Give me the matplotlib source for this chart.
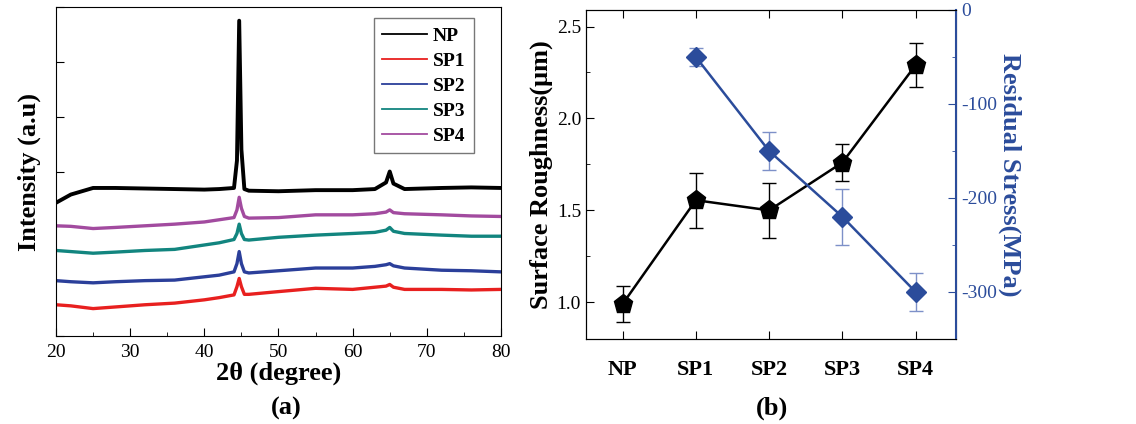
import matplotlib.pyplot as plt
from matplotlib.ticker import MultipleLocator, NullFormatter

plt.rcParams['font.family'] = ['Liberation Serif', 'DejaVu Serif']
plt.rcParams['axes.unicode_minus'] = False

# ---- (a) XRD patterns (stacked offsets) ----
two_theta = [20, 22, 25, 28, 32, 36, 40, 42, 44, 44.4, 44.7, 45.0, 45.4, 46,
             50, 55, 60, 63, 64.5, 65.0, 65.5, 67, 72, 76, 80]
np_int = [2.43, 2.58, 2.70, 2.70, 2.69, 2.68, 2.67, 2.68, 2.70, 3.20, 5.75, 3.40, 2.68, 2.65,
          2.64, 2.66, 2.66, 2.68, 2.80, 3.00, 2.78, 2.68, 2.70, 2.71, 2.70]
sp1_int = [0.57, 0.55, 0.50, 0.53, 0.57, 0.60, 0.66, 0.70, 0.75, 0.90, 1.05, 0.90, 0.76, 0.76,
           0.81, 0.87, 0.85, 0.89, 0.91, 0.94, 0.89, 0.85, 0.85, 0.84, 0.85]
sp2_int = [1.01, 0.99, 0.97, 0.99, 1.01, 1.02, 1.08, 1.11, 1.17, 1.32, 1.54, 1.32, 1.17, 1.15,
           1.19, 1.24, 1.24, 1.27, 1.30, 1.32, 1.28, 1.24, 1.20, 1.19, 1.17]
sp3_int = [1.56, 1.54, 1.51, 1.53, 1.56, 1.58, 1.66, 1.70, 1.76, 1.87, 2.04, 1.87, 1.76, 1.75,
           1.80, 1.84, 1.87, 1.89, 1.93, 1.98, 1.91, 1.87, 1.84, 1.82, 1.82]
sp4_int = [2.01, 2.00, 1.96, 1.98, 2.01, 2.04, 2.08, 2.12, 2.16, 2.30, 2.53, 2.33, 2.18, 2.15,
           2.16, 2.21, 2.21, 2.23, 2.26, 2.30, 2.25, 2.23, 2.21, 2.19, 2.18]

# ---- (b) roughness and residual stress ----
samples = ['NP', 'SP1', 'SP2', 'SP3', 'SP4']
roughness = [0.99, 1.555, 1.50, 1.76, 2.29]
roughness_err = [0.10, 0.15, 0.15, 0.10, 0.12]
stress_samples = ['SP1', 'SP2', 'SP3', 'SP4']
stress = [-50, -150, -220, -300]
stress_err = [10, 20, 30, 20]

fig = plt.figure(figsize=(11.36, 4.24), dpi=100)

ax1 = fig.add_axes([0.0493, 0.2075, 0.3917, 0.776])
series = [('NP', np_int, 'black', 2.8), ('SP1', sp1_int, '#e8201f', 2.4),
          ('SP2', sp2_int, '#2b3f9a', 2.4), ('SP3', sp3_int, '#12857f', 2.4),
          ('SP4', sp4_int, '#a24b9f', 2.4)]
for name, vals, col, lw in series:
    ax1.plot(two_theta, vals, color=col, lw=lw, label=name)
ax1.set_xlim(20, 80)
ax1.set_ylim(0, 6)
ax1.xaxis.set_major_locator(MultipleLocator(10))
ax1.xaxis.set_minor_locator(MultipleLocator(5))
ax1.yaxis.set_major_locator(MultipleLocator(1))
ax1.yaxis.set_major_formatter(NullFormatter())
ax1.tick_params(direction='in', which='both', top=False, right=False, labelsize=14)
ax1.tick_params(which='major', length=6, pad=6)
ax1.tick_params(which='minor', length=3)
ax1.set_xlabel('2θ (degree)', fontsize=19, fontweight='bold', labelpad=0)
ax1.set_ylabel('Intensity (a.u)', fontsize=19, fontweight='bold', labelpad=5)
leg = ax1.legend(loc='upper right', bbox_to_anchor=(0.962, 0.995), fancybox=False,
                 edgecolor='#555555', handlelength=2.3, handletextpad=0.3,
                 labelspacing=0.38, borderpad=0.45,
                 prop={'size': 14, 'weight': 'bold'})
leg.get_frame().set_linewidth(1.0)
for h in leg.get_lines():
    h.set_linewidth(1.3)
fig.text(0.252, 0.022, '(a)', fontsize=19, fontweight='bold', ha='center')

# ---- right panel ----
ax2 = fig.add_axes([0.5158, 0.2005, 0.3257, 0.776])
xpos = list(range(len(samples)))
ax2.errorbar(xpos, roughness, yerr=roughness_err, color='black', lw=1.8,
             marker='p', markersize=14, ecolor='black', elinewidth=1.0, capsize=5)
ax2.set_xlim(-0.5, 4.55)
ax2.set_ylim(0.8, 2.59)
ax2.set_xticks(xpos)
ax2.set_xticklabels(samples, fontsize=16, fontweight='bold')
ax2.yaxis.set_major_locator(MultipleLocator(0.5))
ax2.yaxis.set_minor_locator(MultipleLocator(0.25))
ax2.tick_params(direction='in', which='both', top=True, right=False, labelsize=14)
ax2.tick_params(axis='x', which='major', length=6, labelsize=16, pad=15)
ax2.tick_params(axis='y', which='major', length=6)
ax2.tick_params(axis='y', which='minor', length=3)
ax2.set_ylabel('Surface Roughness(μm)', fontsize=19, fontweight='bold', labelpad=3)

ax3 = ax2.twinx()
blue = '#2b4c9b'
sx = [samples.index(s) for s in stress_samples]
ax3.errorbar(sx, stress, yerr=stress_err, color=blue, lw=1.8, marker='D',
             markersize=10.5, ecolor='#7d90c8', elinewidth=1.0, capsize=5)
ax3.set_ylim(-350, 0)
ax3.yaxis.set_major_locator(MultipleLocator(100))
ax3.yaxis.set_minor_locator(MultipleLocator(50))
ax3.tick_params(direction='in', which='both', colors=blue, labelsize=14)
ax3.tick_params(which='major', length=6)
ax3.tick_params(which='minor', length=3)
ax3.spines['right'].set_color(blue)
ax3.spines['right'].set_linewidth(1.5)
ax3.set_ylabel('Residual Stress(MPa)', fontsize=19, fontweight='bold', color=blue,
               rotation=270, labelpad=18)
fig.text(0.68, 0.022, '(b)', fontsize=19, fontweight='bold', ha='center')

plt.savefig('out.png', dpi=100)
